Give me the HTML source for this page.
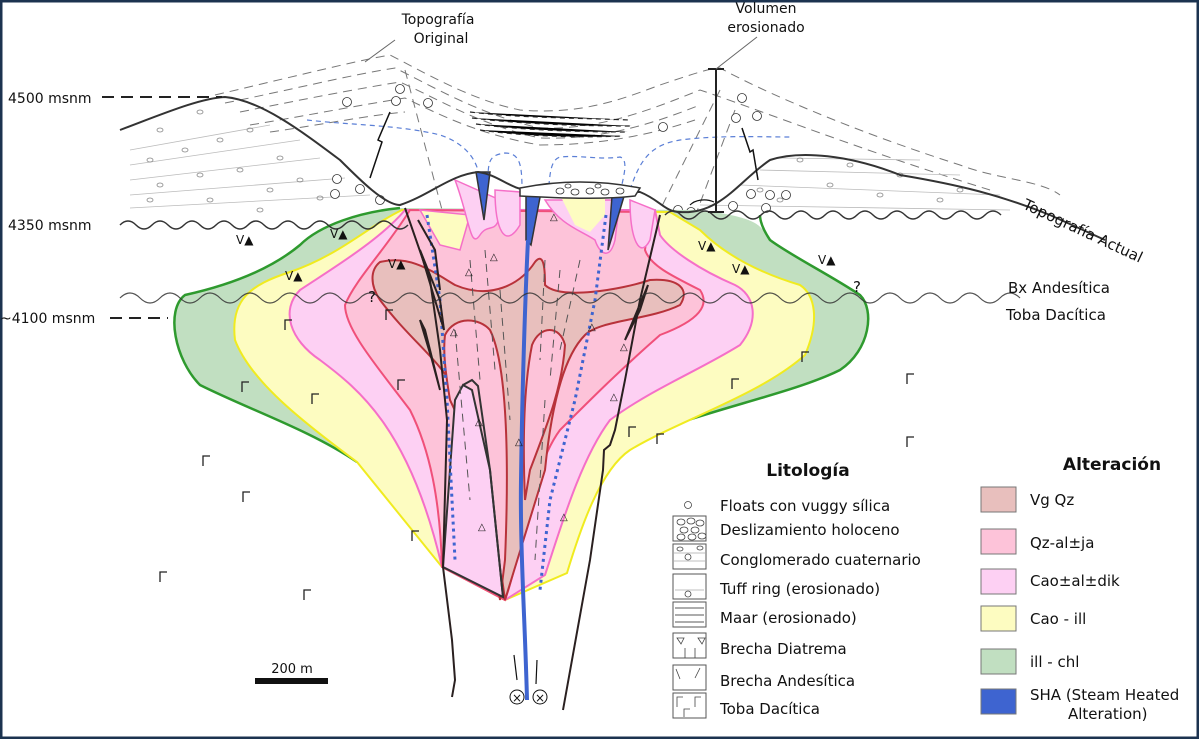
<!DOCTYPE html>
<html><head><meta charset="utf-8"><style>
html,body{margin:0;padding:0;background:#fff}
svg{display:block}
text{font-family:"DejaVu Sans","Liberation Sans",sans-serif;fill:#111}
</style></head><body>
<svg width="1199" height="739" viewBox="0 0 1199 739" xmlns="http://www.w3.org/2000/svg">
<rect x="0" y="0" width="1199" height="739" fill="#fff"/>
<rect x="1" y="1" width="1197" height="737" fill="none" stroke="#1c3350" stroke-width="3"/>

<!-- dashed original topography -->
<g fill="none" stroke="#777" stroke-width="1" stroke-dasharray="9,6">
<path d="M215,95 C300,75 360,60 390,55 C420,70 470,100 520,110 C580,115 620,100 660,85 C690,75 710,68 720,68 C760,90 850,130 960,165 C1000,180 1040,180 1060,195"/>
<path d="M225,103 C290,90 350,75 395,68 C430,85 480,115 540,128 C600,130 650,110 700,90 C760,110 860,150 990,190"/>
<path d="M240,112 C300,100 350,90 400,82 C440,100 480,125 540,138 C600,140 650,125 700,105"/>
<path d="M250,125 C310,115 360,105 405,98 C440,115 480,135 540,145 C600,145 650,135 695,120"/>
<path d="M270,132 C320,125 370,115 405,112"/>
<path d="M405,70 L450,240" />
<path d="M720,90 L650,230"/>
<path d="M735,110 L690,230"/>
</g>
<g stroke="#222" stroke-width="1.2" stroke-dasharray="5,4">
<path d="M470,112 C520,118 580,118 630,120"/>
<path d="M472,118 C520,124 580,126 632,126"/>
<path d="M476,124 C520,130 580,132 628,132"/>
<path d="M480,130 C520,136 580,138 622,136"/>
</g>
<g fill="none" stroke="#5b7fd6" stroke-width="1.2" stroke-dasharray="5,4">
<path d="M307,120 C350,125 400,125 440,135 C470,145 480,165 480,185"/>
<path d="M488,180 C488,160 490,155 505,153 C520,153 522,165 522,190"/>
<path d="M548,195 C550,175 550,160 560,157 C580,155 600,160 620,157 C630,160 622,180 620,195"/>
<path d="M630,190 C640,160 650,145 680,140 C720,135 760,137 790,137"/>
</g>

<g stroke="#bbb" stroke-width="0.8">
<line x1="130" y1="150" x2="270" y2="125"/><line x1="130" y1="165" x2="300" y2="140"/><line x1="130" y1="180" x2="320" y2="158"/><line x1="130" y1="195" x2="345" y2="178"/><line x1="130" y1="208" x2="370" y2="195"/>
<line x1="740" y1="185" x2="1000" y2="195"/><line x1="760" y1="170" x2="960" y2="175"/><line x1="780" y1="158" x2="920" y2="160"/><line x1="700" y1="205" x2="1010" y2="210"/>
</g>
<g fill="none" stroke="#888" stroke-width="0.8">
<ellipse cx="160" cy="130" rx="3" ry="2"/><ellipse cx="200" cy="112" rx="3" ry="2"/><ellipse cx="150" cy="160" rx="3" ry="2"/><ellipse cx="185" cy="150" rx="3" ry="2"/><ellipse cx="220" cy="140" rx="3" ry="2"/><ellipse cx="250" cy="130" rx="3" ry="2"/><ellipse cx="160" cy="185" rx="3" ry="2"/><ellipse cx="200" cy="175" rx="3" ry="2"/><ellipse cx="240" cy="170" rx="3" ry="2"/><ellipse cx="280" cy="158" rx="3" ry="2"/><ellipse cx="150" cy="200" rx="3" ry="2"/><ellipse cx="210" cy="200" rx="3" ry="2"/><ellipse cx="270" cy="190" rx="3" ry="2"/><ellipse cx="300" cy="180" rx="3" ry="2"/><ellipse cx="320" cy="198" rx="3" ry="2"/><ellipse cx="260" cy="210" rx="3" ry="2"/>
<ellipse cx="800" cy="160" rx="3" ry="2"/><ellipse cx="850" cy="165" rx="3" ry="2"/><ellipse cx="900" cy="175" rx="3" ry="2"/><ellipse cx="830" cy="185" rx="3" ry="2"/><ellipse cx="880" cy="195" rx="3" ry="2"/><ellipse cx="940" cy="200" rx="3" ry="2"/><ellipse cx="960" cy="190" rx="3" ry="2"/><ellipse cx="780" cy="200" rx="3" ry="2"/><ellipse cx="760" cy="190" rx="3" ry="2"/>
</g>
<g fill="#fff" stroke="#333" stroke-width="0.8">
<circle cx="337" cy="179" r="4.5"/><circle cx="360" cy="189" r="4.5"/><circle cx="335" cy="194" r="4.5"/><circle cx="380" cy="200" r="4.5"/><circle cx="347" cy="102" r="4.5"/><circle cx="396" cy="101" r="4.5"/><circle cx="400" cy="89" r="4.5"/><circle cx="428" cy="103" r="4.5"/><circle cx="663" cy="127" r="4.5"/><circle cx="742" cy="98" r="4.5"/><circle cx="736" cy="118" r="4.5"/><circle cx="757" cy="116" r="4.5"/><circle cx="678" cy="210" r="4.5"/><circle cx="691" cy="212" r="4.5"/><circle cx="733" cy="206" r="4.5"/><circle cx="751" cy="194" r="4.5"/><circle cx="770" cy="195" r="4.5"/><circle cx="786" cy="195" r="4.5"/><circle cx="766" cy="208" r="4.5"/>
</g>

<!-- alteration zones -->
<path d="M400,208 C360,212 320,225 300,245 C270,270 230,285 185,295 C165,310 175,360 200,385 C250,410 310,430 357,462 L500,340 L667,427 C730,405 800,390 840,370 C870,350 875,310 860,295 C830,275 790,255 770,240 C760,225 760,218 700,210 Z" fill="#c1dfc1" stroke="none"/>
<path d="M400,208 C360,212 320,225 300,245 C270,270 230,285 185,295 C165,310 175,360 200,385 C250,410 310,430 357,462" fill="none" stroke="#2e9a2e" stroke-width="2.5"/>
<path d="M667,427 C730,405 800,390 840,370 C870,350 875,310 860,295 C830,275 790,255 770,240 C760,225 760,218 760,215" fill="none" stroke="#2e9a2e" stroke-width="2.5"/>
<path d="M402,210 C370,225 340,255 290,272 C250,285 230,300 235,340 C250,380 300,420 357,462 L442,567 L505,600 L567,573 C580,530 600,470 630,450 C680,420 760,395 805,355 C820,320 815,295 800,285 C750,270 720,250 700,230 L670,212 Z" fill="#fdfcc1" stroke="#f0eb20" stroke-width="2"/>
<path d="M405,210 C380,240 330,270 300,290 C280,310 290,340 320,360 C360,390 410,430 442,567 L505,600 L545,575 C560,530 580,460 610,420 C650,390 700,370 740,345 C760,320 755,295 735,285 C700,270 670,250 660,235 L655,210 Z" fill="#fdd0f3" stroke="#f56fc8" stroke-width="2"/>
<path d="M410,210 C385,250 355,280 345,305 C345,330 380,370 410,410 C430,450 440,500 442,567 L505,600 C520,560 530,470 560,430 C590,400 620,370 660,335 C700,320 710,305 700,290 C670,275 650,265 645,250 L650,212 Z" fill="#fdc3d9" stroke="#f0507a" stroke-width="2"/>
<path d="M380,262 C410,255 430,270 455,285 C490,300 520,285 535,262 C545,250 545,275 545,285 C560,300 620,290 650,280 C680,278 690,290 680,305 C650,320 600,320 585,335 C560,360 550,420 545,470 L505,600 C495,520 470,420 455,390 C440,360 410,340 380,300 C370,285 370,270 380,262 Z" fill="#e8bfbd" stroke="#b8323a" stroke-width="2"/>
<path d="M445,335 C455,315 480,318 490,330 C505,360 510,440 505,560 L500,600 C490,520 470,440 450,400 C445,370 443,350 445,335 Z" fill="#fdc3d9" stroke="#b8323a" stroke-width="2"/>
<path d="M532,345 C540,325 560,325 565,345 C562,390 545,430 530,470 L525,500 C522,430 525,380 532,345 Z" fill="#fdc3d9" stroke="#b8323a" stroke-width="2"/>
<path d="M443,567 L455,400 L463,385 L472,390 L490,470 L503,597 Z" fill="#fdd0f3" stroke="#333" stroke-width="2"/>
<path d="M420,210 L440,245 L460,250 L470,215 Z" fill="#fdfcc1" stroke="#f56fc8" stroke-width="1.5"/>
<path d="M455,180 C470,220 470,250 480,235 C490,220 500,240 500,200 Z" fill="#fdd0f3" stroke="#f56fc8" stroke-width="1.5"/>
<path d="M495,190 C495,230 505,250 520,225 L520,192 Z" fill="#fdd0f3" stroke="#f56fc8" stroke-width="1.5"/>
<path d="M545,200 C560,225 580,230 595,240 C600,255 610,260 615,240 L620,200 Z" fill="#fdd0f3" stroke="#f56fc8" stroke-width="1.5"/>
<path d="M560,195 L575,225 L590,232 L605,215 L605,195 Z" fill="#fdfcc1" stroke="none"/>
<path d="M630,200 C630,240 640,260 650,240 L655,210 Z" fill="#fdd0f3" stroke="#f56fc8" stroke-width="1.5"/>

<path d="M476,172 L490,172 L484,220 Z" fill="#3e64d0" stroke="#333" stroke-width="1.5"/>
<path d="M526,190 L541,192 L531,245 L526,240 Z" fill="#3e64d0" stroke="#333" stroke-width="1.5"/>
<path d="M612,196 L625,193 L608,250 Z" fill="#3e64d0" stroke="#333" stroke-width="1.5"/>
<path d="M528,240 C525,300 522,400 521,480 C520,550 525,620 527,700" fill="none" stroke="#3e64d0" stroke-width="4"/>
<path d="M427,215 L440,300 L447,400 L455,560" fill="none" stroke="#3e64d0" stroke-width="3" stroke-dasharray="3,4"/>
<path d="M606,215 L595,300 L575,400 L550,500 L540,590" fill="none" stroke="#3e64d0" stroke-width="3" stroke-dasharray="3,4"/>

<g stroke="#555" stroke-width="1" stroke-dasharray="8,6">
<line x1="470" y1="260" x2="480" y2="380"/><line x1="485" y1="250" x2="495" y2="370"/><line x1="500" y1="290" x2="510" y2="420"/><line x1="545" y1="260" x2="540" y2="360"/><line x1="560" y1="270" x2="550" y2="380"/><line x1="580" y1="260" x2="560" y2="350"/><line x1="455" y1="330" x2="470" y2="500"/><line x1="545" y1="400" x2="535" y2="560"/>
</g>
<g fill="none" stroke="#2a2020" stroke-width="2">
<path d="M405,208 L430,280 L440,350 L447,420 L443,567 L452,640 L455,680 L452,697"/>
<path d="M418,220 L435,250 L440,290"/>
<path d="M420,250 L440,300 L444,330 L432,290 Z"/>
<path d="M420,320 L432,360 L440,390 L425,330 Z"/>
<path d="M660,215 L640,300 L625,380 L615,430 L610,445 L604,450 L603,470 L590,560 L563,710"/>
<path d="M648,285 L640,310 L625,340 Z"/>
<path d="M463,385 L472,380 L478,386 L490,470 L503,597" stroke="#333"/>
</g>
<path d="M120,130 C160,115 200,98 225,97 C260,100 300,130 340,160 C360,180 385,205 400,205 C430,195 450,175 478,172 C500,175 510,190 530,190 C570,192 600,192 640,192 C660,200 665,212 680,212 C720,215 740,180 770,160 C800,150 850,155 900,175 C960,185 1000,195 1050,215 L1105,240" fill="none" stroke="#333" stroke-width="2"/>
<path d="M520,188 C560,180 600,180 640,188 L635,196 C600,200 560,198 520,196 Z" fill="#fff" stroke="#333" stroke-width="1.5"/>
<g fill="none" stroke="#333" stroke-width="0.8"><ellipse cx="560" cy="191" rx="4" ry="3"/><ellipse cx="575" cy="192" rx="4" ry="3"/><ellipse cx="590" cy="191" rx="4" ry="3"/><ellipse cx="605" cy="192" rx="4" ry="3"/><ellipse cx="620" cy="191" rx="4" ry="3"/><ellipse cx="568" cy="186" rx="3" ry="2"/><ellipse cx="598" cy="186" rx="3" ry="2"/></g>
<path d="M120,225 q8,-8 16,0 t16,0 t16,0 t16,0 t16,0 t16,0 t16,0 t16,0 t16,0 t16,0 t16,0 t16,0 t16,0 t16,0 t16,0 t16,0 t16,0 t16,0" fill="none" stroke="#333" stroke-width="1.5"/>
<path d="M665,215 q8,-8 16,0 t16,0 t16,0 t16,0 t16,0 t16,0 t16,0 t16,0 t16,0 t16,0 t16,0 t16,0 t16,0 t16,0 t16,0 t16,0 t16,0 t16,0 t16,0 t16,0 t16,0" fill="none" stroke="#333" stroke-width="1.5"/>
<path d="M120,298 q10,-10 20,0 t20,0 t20,0 t20,0 t20,0 t20,0 t20,0 t20,0 t20,0 t20,0 t20,0 t20,0 t20,0 t20,0 t20,0 t20,0 t20,0 t20,0 t20,0 t20,0 t20,0 t20,0 t20,0 t20,0 t20,0 t20,0 t20,0 t20,0 t20,0 t20,0 t20,0 t20,0 t20,0 t20,0 t20,0 t20,0 t20,0 t20,0 t20,0 t20,0 t20,0 t20,0 t20,0 t20,0 t20,0" fill="none" stroke="#333" stroke-width="1.2" opacity="0.85"/>
<line x1="716" y1="69" x2="716" y2="212" stroke="#222" stroke-width="2"/>
<line x1="708" y1="69" x2="724" y2="69" stroke="#222" stroke-width="2"/>
<line x1="708" y1="212" x2="724" y2="212" stroke="#222" stroke-width="2"/>
<path d="M390,112 L378,140 L382,142 L370,178" fill="none" stroke="#111" stroke-width="1.5"/>
<path d="M742,128 L750,152 L753,150 L758,180" fill="none" stroke="#111" stroke-width="1.5"/>
<path d="M714,202 C705,198 695,200 690,205" fill="none" stroke="#111" stroke-width="1.2"/>
<line x1="365" y1="62" x2="395" y2="40" stroke="#666"/><line x1="716" y1="69" x2="757" y2="37" stroke="#666"/>
<line x1="102" y1="97" x2="222" y2="97" stroke="#222" stroke-width="2" stroke-dasharray="12,7"/>
<line x1="110" y1="318" x2="168" y2="318" stroke="#222" stroke-width="2" stroke-dasharray="12,7"/>
<text x="8" y="103" font-size="14">4500 msnm</text>
<text x="8" y="230" font-size="14">4350 msnm</text>
<text x="0" y="323" font-size="14">~4100 msnm</text>
<text x="438" y="24" font-size="14" text-anchor="middle">Topografía</text>
<text x="441" y="43" font-size="14" text-anchor="middle">Original</text>
<text x="766" y="13" font-size="14" text-anchor="middle">Volumen</text>
<text x="766" y="32" font-size="14" text-anchor="middle">erosionado</text>
<text x="1022" y="208" font-size="15" transform="rotate(25 1022 208)">Topografía Actual</text>
<text x="1008" y="293" font-size="15">Bx Andesítica</text>
<text x="1006" y="320" font-size="15">Toba Dacítica</text>
<text x="368" y="302" font-size="15">?</text><text x="853" y="292" font-size="15">?</text>
<g font-size="12" fill="#222">
<text x="236" y="244">V▲</text><text x="330" y="238">V▲</text><text x="285" y="280">V▲</text><text x="698" y="250">V▲</text><text x="732" y="273">V▲</text><text x="818" y="264">V▲</text><text x="388" y="268">V▲</text>
</g>
<g fill="none" stroke="#222" stroke-width="1.3">
<path d="M285,330 v-10 h7"/><path d="M386,320 v-10 h7"/><path d="M242,392 v-10 h7"/><path d="M312,404 v-10 h7"/><path d="M398,390 v-10 h7"/><path d="M203,466 v-10 h7"/><path d="M243,502 v-10 h7"/><path d="M412,541 v-10 h7"/><path d="M160,582 v-10 h7"/><path d="M304,600 v-10 h7"/><path d="M802,362 v-10 h7"/><path d="M732,389 v-10 h7"/><path d="M657,444 v-10 h7"/><path d="M629,437 v-10 h7"/><path d="M907,384 v-10 h7"/><path d="M907,447 v-10 h7"/><path d="M705,257 v0"/>
</g>
<g font-size="10" fill="#553">
<text x="465" y="275">△</text><text x="490" y="260">△</text><text x="450" y="335">△</text><text x="475" y="425">△</text><text x="560" y="520">△</text><text x="588" y="330">△</text><text x="620" y="350">△</text><text x="515" y="445">△</text><text x="478" y="530">△</text><text x="550" y="220">△</text><text x="610" y="400">△</text>
</g>
<text x="292" y="673" font-size="13" text-anchor="middle">200 m</text>
<rect x="255" y="678" width="73" height="6" fill="#111"/>
<line x1="514" y1="655" x2="517" y2="680" stroke="#111" stroke-width="1.2"/><line x1="537" y1="660" x2="536" y2="684" stroke="#111" stroke-width="1.2"/>
<circle cx="517" cy="697" r="7" fill="#fff" stroke="#111"/><text x="517" y="702" font-size="12" text-anchor="middle">×</text>
<circle cx="540" cy="697" r="7" fill="#fff" stroke="#111"/><text x="540" y="702" font-size="12" text-anchor="middle">×</text>

<!-- legend Litologia -->
<text x="808" y="476" font-size="17" font-weight="bold" text-anchor="middle">Litología</text>
<g fill="#fff" stroke="#555" stroke-width="1">
<rect x="673" y="516" width="33" height="25"/><rect x="673" y="544" width="33" height="25"/><rect x="673" y="574" width="33" height="25"/><rect x="673" y="602" width="33" height="25"/><rect x="673" y="633" width="33" height="25"/><rect x="673" y="665" width="33" height="25"/><rect x="673" y="693" width="33" height="25"/>
</g>
<g fill="none" stroke="#444" stroke-width="0.8">
<ellipse cx="681" cy="522" rx="4" ry="3"/><ellipse cx="691" cy="521" rx="4" ry="3"/><ellipse cx="700" cy="523" rx="4" ry="3"/><ellipse cx="684" cy="530" rx="4" ry="3"/><ellipse cx="695" cy="530" rx="4" ry="3"/><ellipse cx="681" cy="537" rx="4" ry="3"/><ellipse cx="692" cy="537" rx="4" ry="3"/><ellipse cx="702" cy="536" rx="4" ry="3"/>
<line x1="673" y1="553" x2="706" y2="553" stroke="#aaa"/><line x1="673" y1="561" x2="706" y2="561" stroke="#aaa"/><ellipse cx="680" cy="549" rx="3" ry="2"/><ellipse cx="700" cy="548" rx="3" ry="2"/><circle cx="688" cy="557" r="3"/>
<line x1="675" y1="590" x2="704" y2="590" stroke="#aaa"/><circle cx="688" cy="594" r="3"/>
<line x1="675" y1="608" x2="704" y2="608" stroke="#222"/><line x1="675" y1="615" x2="704" y2="615" stroke="#222"/><line x1="675" y1="622" x2="704" y2="622" stroke="#222"/>
<path d="M677,638 l4,6 l3,-6 z M698,638 l4,6 l3,-6 z"/><path d="M685,648 v10 M695,648 v10"/>
<path d="M676,669 l4,10 M700,668 l-5,10"/>
<path d="M677,707 v-10 h6 M695,707 v-10 h6 M684,717 v-8 h6"/>
</g>
<circle cx="688" cy="505" r="3.5" fill="none" stroke="#444" stroke-width="0.8"/>
<g font-size="15">
<text x="720" y="511">Floats con vuggy sílica</text>
<text x="720" y="535">Deslizamiento holoceno</text>
<text x="720" y="565">Conglomerado cuaternario</text>
<text x="720" y="594">Tuff ring (erosionado)</text>
<text x="720" y="623">Maar (erosionado)</text>
<text x="720" y="654">Brecha Diatrema</text>
<text x="720" y="686">Brecha Andesítica</text>
<text x="720" y="714">Toba Dacítica</text>
</g>
<text x="1112" y="470" font-size="17" font-weight="bold" text-anchor="middle">Alteración</text>
<g stroke="#777" stroke-width="1">
<rect x="981" y="487" width="35" height="25" fill="#e8bfbd"/>
<rect x="981" y="529" width="35" height="25" fill="#fdc3d9"/>
<rect x="981" y="569" width="35" height="25" fill="#fdd0f3"/>
<rect x="981" y="606" width="35" height="25" fill="#fdfcc1"/>
<rect x="981" y="649" width="35" height="25" fill="#c1dfc1"/>
<rect x="981" y="689" width="35" height="25" fill="#3e64d0"/>
</g>
<g font-size="15">
<text x="1030" y="505">Vg Qz</text>
<text x="1030" y="548">Qz-al±ja</text>
<text x="1030" y="586">Cao±al±dik</text>
<text x="1030" y="624">Cao - ill</text>
<text x="1030" y="667">ill - chl</text>
<text x="1030" y="700">SHA (Steam Heated</text>
<text x="1068" y="719">Alteration)</text>
</g>
</svg>
</body></html>
